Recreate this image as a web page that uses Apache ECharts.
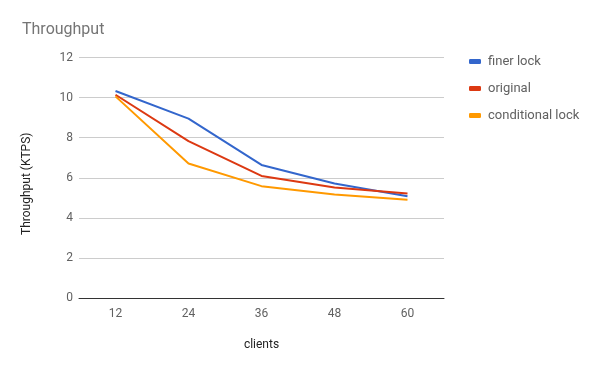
<!DOCTYPE html>
<html>
<head>
<meta charset="utf-8">
<script src="https://cdn.jsdelivr.net/npm/echarts@6/dist/echarts.min.js"></script>
<style>
html,body{margin:0;padding:0;background:#fff;}
#c{width:600px;height:371px;}
</style>
</head>
<body>
<div id="c"></div>
<script>
var categories = ['12', '24', '36', '48', '60'];
var finerLock = [10.33, 8.95, 6.64, 5.71, 5.08];
var original = [10.14, 7.83, 6.09, 5.51, 5.21];
var conditionalLock = [10.06, 6.71, 5.58, 5.16, 4.90];
var seriesNames = ['finer lock', 'original', 'conditional lock'];
var colors = ['#3366cc', '#dc3912', '#ff9900'];

var chart = echarts.init(document.getElementById('c'));
var font = 'Roboto, "Noto Sans", sans-serif';
function line(name, data, color) {
  return {
    name: name, type: 'line', data: data,
    symbol: 'none', smooth: false,
    lineStyle: {width: 2, color: color},
    itemStyle: {color: color}
  };
}
chart.setOption({
  animation: false,
  textStyle: {fontFamily: font},
  title: {
    text: 'Throughput', left: 17, top: 17,
    textStyle: {fontSize: 16, fontWeight: 'normal', color: '#757575', fontFamily: font}
  },
  legend: {
    orient: 'vertical', left: 464, top: 50, itemGap: 14,
    icon: 'roundRect', itemWidth: 12, itemHeight: 5,
    textStyle: {fontSize: 13, color: '#616161', fontFamily: font, padding: [0, 0, 0, 2]},
    data: seriesNames
  },
  grid: {left: 79, right: 156, top: 57.5, bottom: 73},
  xAxis: {
    type: 'category', data: categories, boundaryGap: true,
    name: 'clients', nameLocation: 'middle', nameGap: 41,
    nameTextStyle: {fontSize: 12, color: '#222', fontFamily: font},
    axisTick: {show: false},
    axisLine: {lineStyle: {color: '#333', width: 1}},
    axisLabel: {fontSize: 12, color: '#616161', margin: 10, fontFamily: font}
  },
  yAxis: {
    type: 'value', min: 0, max: 12, interval: 2,
    name: 'Throughput (KTPS)', nameLocation: 'middle', nameGap: 46,
    nameTextStyle: {fontSize: 12, color: '#222', fontFamily: font, padding: [0, 12, 0, 0]},
    axisLine: {show: false}, axisTick: {show: false},
    axisLabel: {fontSize: 12, color: '#616161', margin: 6, fontFamily: font},
    splitLine: {lineStyle: {color: '#cccccc', width: 1}}
  },
  series: [
    line(seriesNames[0], finerLock, colors[0]),
    line(seriesNames[1], original, colors[1]),
    line(seriesNames[2], conditionalLock, colors[2])
  ]
});
</script>
</body>
</html>
